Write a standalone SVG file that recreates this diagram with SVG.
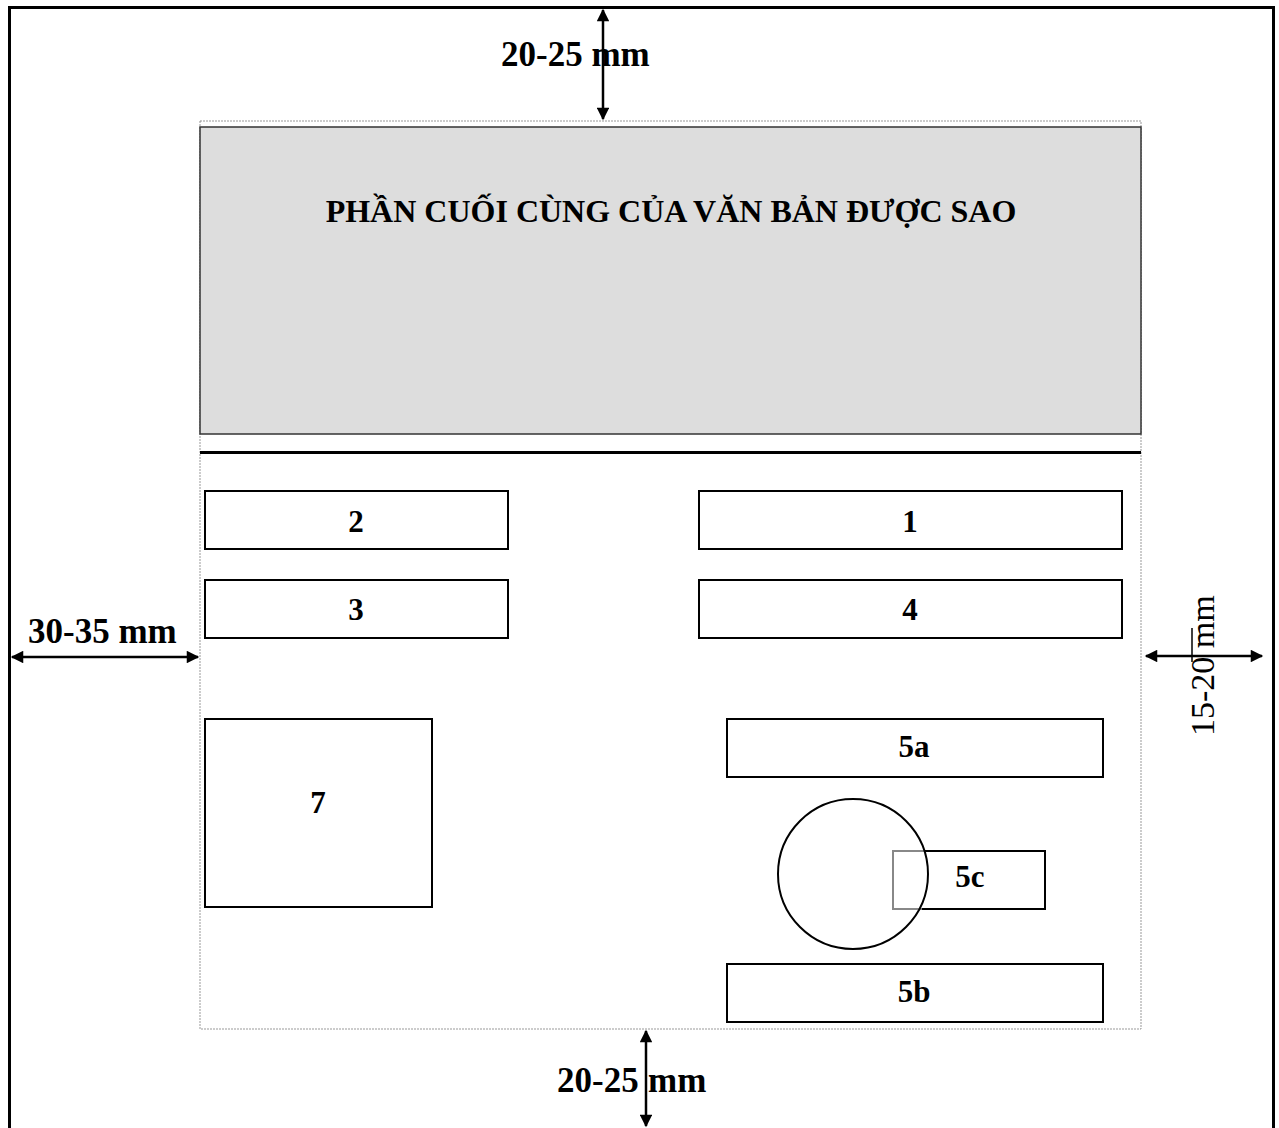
<svg xmlns="http://www.w3.org/2000/svg" width="1279" height="1128" viewBox="0 0 1279 1128">
<style>
.box{fill:#fff;stroke:#000;stroke-width:2}
.lbl{font-family:"Liberation Serif","Times New Roman",serif;font-weight:bold;font-size:31px;text-anchor:middle;fill:#000}
.ttl{font-family:"Liberation Serif","Times New Roman",serif;font-weight:bold;font-size:32px;text-anchor:middle;fill:#000}
.dim{font-family:"Liberation Serif","Times New Roman",serif;font-weight:bold;font-size:35px;fill:#000}
.arr{stroke:#000;stroke-width:2.5;fill:none;marker-start:url(#ah);marker-end:url(#ah)}
</style>
<defs>
<marker id="ah" viewBox="0 0 10 10" refX="9" refY="5" markerWidth="6" markerHeight="5" orient="auto-start-reverse" markerUnits="strokeWidth">
<path d="M0,0 L10,5 L0,10 z" fill="#000"/>
</marker>
</defs>
<rect width="1279" height="1128" fill="#fff"/>
<g id="frame">
<path d="M9.5,1128 V7.5 H1273.5 V1128" fill="none" stroke="#000" stroke-width="3"/>
<rect x="200" y="121" width="941" height="908" fill="none" stroke="#999" stroke-width="1" stroke-dasharray="2,1"/>
</g>
<g id="header">
<rect x="200" y="127" width="941" height="307" fill="#dddddd" stroke="#333" stroke-width="1.5"/>
<text class="ttl" x="671" y="222">PHẦN CUỐI CÙNG CỦA VĂN BẢN ĐƯỢC SAO</text>
</g>
<g id="separator">
<line x1="200" y1="452.5" x2="1141" y2="452.5" stroke="#000" stroke-width="3"/>
</g>
<g id="node2"><rect class="box" x="205" y="491" width="303" height="58"/><text class="lbl" x="356" y="532">2</text></g>
<g id="node1"><rect class="box" x="699" y="491" width="423" height="58"/><text class="lbl" x="910" y="532">1</text></g>
<g id="node3"><rect class="box" x="205" y="580" width="303" height="58"/><text class="lbl" x="356" y="620">3</text></g>
<g id="node4"><rect class="box" x="699" y="580" width="423" height="58"/><text class="lbl" x="910" y="620">4</text></g>
<g id="node7"><rect class="box" x="205" y="719" width="227" height="188"/><text class="lbl" x="318" y="813">7</text></g>
<g id="node5a"><rect class="box" x="727" y="719" width="376" height="58"/><text class="lbl" x="914" y="757">5a</text></g>
<g id="node5c">
<rect x="893" y="851" width="152" height="58" fill="none" stroke="#000" stroke-width="2"/>
<path d="M925,851 H893 V909 H922" fill="none" stroke="#888" stroke-width="2"/>
<circle cx="853" cy="874" r="75" fill="none" stroke="#000" stroke-width="2"/>
<text class="lbl" x="970" y="887">5c</text>
</g>
<g id="node5b"><rect class="box" x="727" y="964" width="376" height="58"/><text class="lbl" x="914" y="1002">5b</text></g>
<g id="connectors">
<line class="arr" x1="603" y1="10" x2="603" y2="119"/>
<line class="arr" x1="12" y1="657" x2="198" y2="657"/>
<line class="arr" x1="1146" y1="656" x2="1262" y2="656"/>
<line class="arr" x1="646" y1="1031" x2="646" y2="1126"/>
<line x1="1192" y1="628" x2="1192" y2="662" stroke="#000" stroke-width="1.5"/>
</g>
<g id="dimension-labels">
<text class="dim" x="501" y="66">20-25 mm</text>
<text class="dim" x="28" y="643">30-35 mm</text>
<text class="dim" x="557" y="1092">20-25</text>
<text class="dim" x="648" y="1092">mm</text>
<text x="1214" y="736" transform="rotate(-90 1214 736)" font-family="'Liberation Serif','Times New Roman',serif" font-size="34" fill="#000">15-20 mm</text>
</g>
</svg>
